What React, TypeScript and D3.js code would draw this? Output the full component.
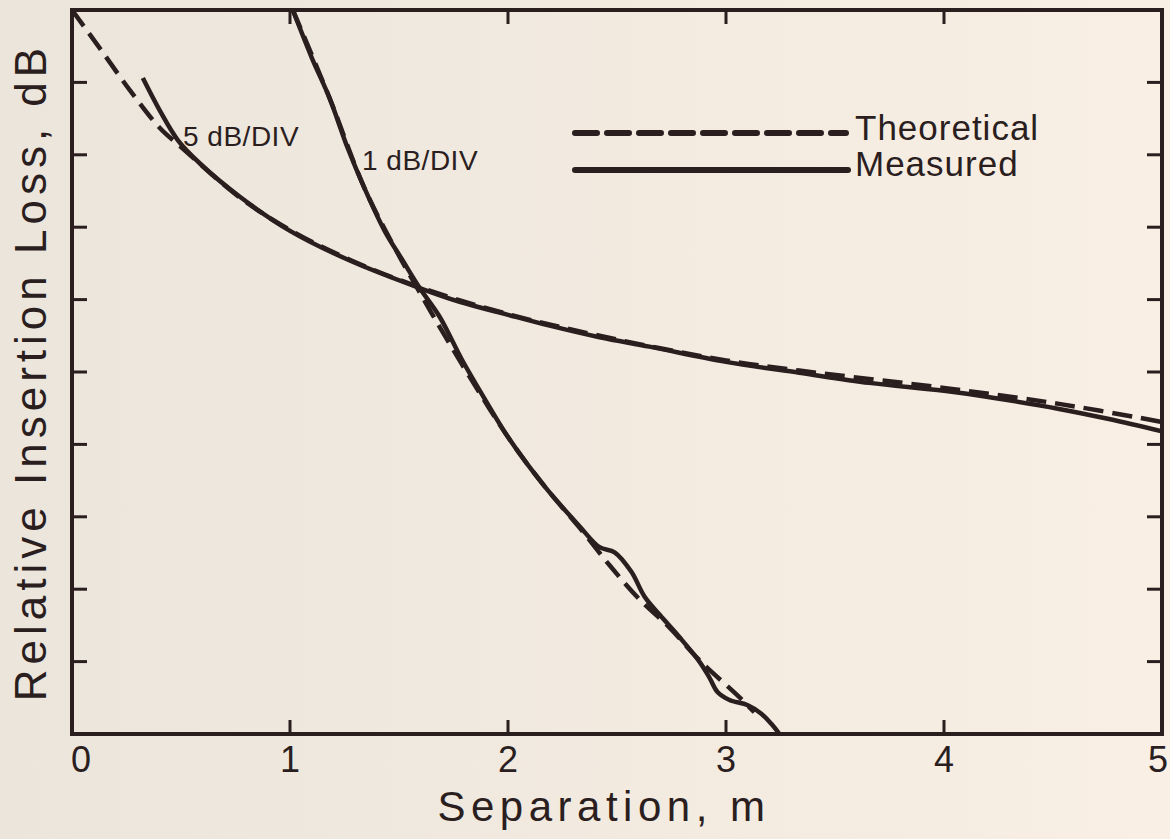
import React from 'react';
import * as d3 from 'd3';

const W = 1170;
const H = 839;

// Axis ticks
const xTickValues = [0, 1, 2, 3, 4, 5];
const xTickLabels = ['0', '1', '2', '3', '4', '5'];
const yDivisionTicks = [1, 2, 3, 4, 5, 6, 7, 8, 9];

// 5 dB/DIV curve (loss in divisions from bottom of frame)
const sepMeasured5 = [0.325, 0.403, 0.486, 0.587, 0.77, 1.0, 1.274, 1.595, 1.778, 2.0, 2.191, 2.42, 2.649, 3.0, 3.336, 3.657, 4.0, 4.253, 4.528, 4.757, 5.0];
const lossMeasured5 = [9.06, 8.61, 8.2, 7.88, 7.42, 6.95, 6.54, 6.16, 5.97, 5.79, 5.64, 5.48, 5.35, 5.14, 4.99, 4.85, 4.74, 4.63, 4.49, 4.35, 4.18];
const sepTheory5 = [0, 0.128, 0.266, 0.403, 0.495, 0.77, 1.0, 1.274, 1.595, 2.0, 2.42, 3.0, 3.336, 4.0, 4.528, 5.0];
const lossTheory5 = [10, 9.47, 8.89, 8.37, 8.12, 7.41, 6.96, 6.55, 6.17, 5.8, 5.5, 5.16, 5.02, 4.78, 4.56, 4.31];

// 1 dB/DIV curve
const sepMeasured1 = [1.013, 1.1, 1.182, 1.265, 1.343, 1.434, 1.517, 1.595, 1.687, 1.787, 1.893, 2.007, 2.168, 2.328, 2.42, 2.489, 2.566, 2.626, 2.695, 2.786, 2.878, 2.924, 2.961, 3.016, 3.098, 3.162, 3.208, 3.245];
const lossMeasured1 = [10, 9.34, 8.78, 8.09, 7.53, 6.95, 6.54, 6.16, 5.76, 5.18, 4.63, 4.07, 3.42, 2.87, 2.58, 2.51, 2.24, 1.9, 1.65, 1.34, 1.0, 0.78, 0.58, 0.47, 0.4, 0.28, 0.14, 0];
const sepTheory1 = [1.013, 1.182, 1.343, 1.503, 1.618, 1.687, 1.825, 2.007, 2.168, 2.328, 2.466, 2.603, 2.741, 2.878, 3.061, 3.13];
const lossTheory1 = [10, 8.78, 7.53, 6.59, 5.98, 5.62, 4.93, 4.07, 3.42, 2.85, 2.33, 1.86, 1.47, 1.02, 0.51, 0.3];

const INK = '#2b1e1f';
const FONT = '"Liberation Sans", Arial, Helvetica, sans-serif';

const left = 72, right = 1162, top = 10, bottom = 734;

export default function App() {
  const x = d3.scaleLinear().domain([0, 5]).range([left, right]);
  const y = d3.scaleLinear().domain([0, 10]).range([bottom, top]);
  const line = d3
    .line<[number, number]>()
    .x((d) => x(d[0]))
    .y((d) => y(d[1]))
    .curve(d3.curveCatmullRom.alpha(0.5));
  const zip = (a: number[], b: number[]) => a.map((v, i) => [v, b[i]] as [number, number]);

  return (
    <svg width={W} height={H} style={{ position: 'absolute', left: 0, top: 0 }}>
      <defs>
        <linearGradient id="bg" x1="0" x2="1" y1="0" y2="0">
          <stop offset="0" stopColor="#ebe5db" />
          <stop offset="1" stopColor="#f9efe4" />
        </linearGradient>
        <clipPath id="plot">
          <rect x={left} y={top} width={right - left} height={bottom - top} />
        </clipPath>
      </defs>
      <rect x={0} y={0} width={W} height={H} fill="url(#bg)" />

      <g clipPath="url(#plot)" fill="none" stroke={INK} strokeWidth={4.5}>
        <path d={line(zip(sepTheory5, lossTheory5)) || ''} strokeDasharray="20 9" />
        <path d={line(zip(sepTheory1, lossTheory1)) || ''} strokeDasharray="20 9" />
        <path d={line(zip(sepMeasured5, lossMeasured5)) || ''} />
        <path d={line(zip(sepMeasured1, lossMeasured1)) || ''} />
      </g>

      {/* frame */}
      <rect x={left} y={top} width={right - left} height={bottom - top} fill="none" stroke={INK} strokeWidth={4} />
      {xTickValues.slice(1, -1).map((v) => (
        <g key={'xt' + v} stroke={INK} strokeWidth={3}>
          <line x1={x(v)} x2={x(v)} y1={bottom} y2={bottom - 14} />
          <line x1={x(v)} x2={x(v)} y1={top} y2={top + 14} />
        </g>
      ))}
      {yDivisionTicks.map((v) => (
        <g key={'yt' + v} stroke={INK} strokeWidth={3}>
          <line x1={left} x2={left + 15} y1={y(v)} y2={y(v)} />
          <line x1={right} x2={right - 15} y1={y(v)} y2={y(v)} />
        </g>
      ))}
      {xTickValues.map((v, i) => (
        <text key={'xl' + v} x={x(v) + (i === 0 ? 9 : i === xTickValues.length - 1 ? -4 : 0)} y={772} textAnchor="middle" fontFamily={FONT} fontSize={36} fill={INK}>
          {xTickLabels[i]}
        </text>
      ))}
      <text x={604} y={821} textAnchor="middle" fontFamily={FONT} fontSize={42} letterSpacing={5.5} fill={INK}>
        Separation, m
      </text>
      <text transform="translate(46,372) rotate(-90)" textAnchor="middle" fontFamily={FONT} fontSize={44} letterSpacing={5} fill={INK}>
        Relative Insertion Loss, dB
      </text>

      {/* annotations */}
      <text x={183} y={146} fontFamily={FONT} fontSize={28} letterSpacing={0.5} fill={INK}>5 dB/DIV</text>
      <text x={362} y={170} fontFamily={FONT} fontSize={28} letterSpacing={0.5} fill={INK}>1 dB/DIV</text>

      {/* legend */}
      <line x1={575} x2={846} y1={133} y2={133} stroke={INK} strokeWidth={6} strokeLinecap="round" strokeDasharray="22 10" />
      <line x1={575} x2={848} y1={170} y2={170} stroke={INK} strokeWidth={6} strokeLinecap="round" />
      <text x={855} y={140} fontFamily={FONT} fontSize={35} letterSpacing={1} fill={INK}>Theoretical</text>
      <text x={855} y={176} fontFamily={FONT} fontSize={35} letterSpacing={1} fill={INK}>Measured</text>
    </svg>
  );
}
